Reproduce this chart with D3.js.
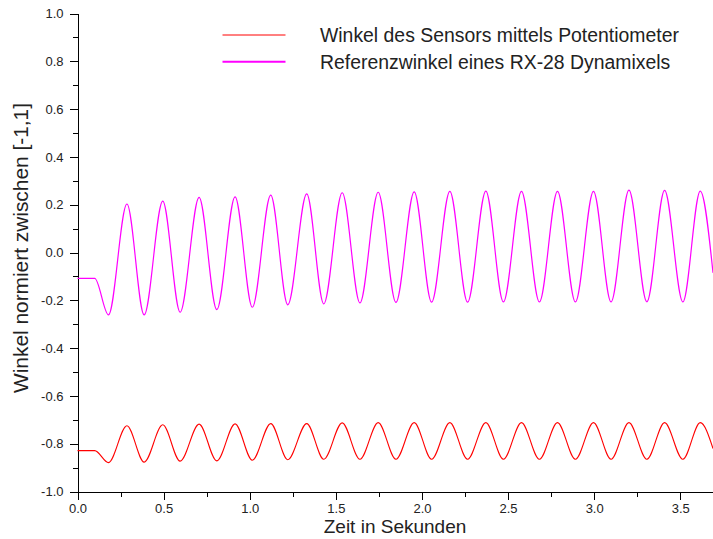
<!DOCTYPE html>
<html lang="de">
<head>
  <meta charset="UTF-8">
  <title>Winkel normiert</title>
  <script src="https://d3js.org/d3.v7.min.js"></script>
  <style>
    body { margin: 0; background: #fff; }
    svg text { font-family: "Liberation Sans", Arial, sans-serif; fill: #222; }
    .axis path, .axis line { stroke: #000; shape-rendering: crispEdges; }
    .axis text { font-size: 13px; }
  </style>
</head>
<body>
<div id="chart"></div>
<script>
  // Zeitpunkte der Extrema (s), gemeinsam für beide Kurven
  const startTimes = [0, 0.10];
  const troughTimes = [0.180, 0.387, 0.596, 0.809, 1.015, 1.221, 1.430, 1.640, 1.849,
                       2.056, 2.265, 2.473, 2.682, 2.891, 3.098, 3.306, 3.515];
  const peakTimes = [0.287, 0.495, 0.706, 0.915, 1.122, 1.331, 1.537, 1.746, 1.955,
                     2.162, 2.371, 2.578, 2.787, 2.996, 3.202, 3.409, 3.616];
  const endTime = 3.69;

  // Referenzwinkel (Dynamixel)
  const refStart = -0.108;
  const refTroughs = [-0.261, -0.261, -0.250, -0.239, -0.229, -0.219, -0.215, -0.211, -0.209,
                      -0.208, -0.208, -0.207, -0.207, -0.207, -0.207, -0.206, -0.207];
  const refPeaks = [0.203, 0.215, 0.231, 0.233, 0.240, 0.245, 0.250, 0.252, 0.254,
                    0.256, 0.257, 0.256, 0.256, 0.256, 0.261, 0.260, 0.257];
  const refEnd = -0.085;

  // Sensorwinkel (Potentiometer)
  const sensStart = -0.829;
  const sensTroughs = [-0.879, -0.877, -0.873, -0.872, -0.869, -0.867, -0.865, -0.865, -0.865,
                       -0.865, -0.865, -0.865, -0.865, -0.865, -0.865, -0.865, -0.865];
  const sensPeaks = [-0.725, -0.721, -0.718, -0.717, -0.716, -0.716, -0.713, -0.712, -0.712,
                     -0.712, -0.712, -0.712, -0.712, -0.712, -0.712, -0.712, -0.712];
  const sensEnd = -0.820;

  const legendLabels = ["Winkel des Sensors mittels Potentiometer",
                        "Referenzwinkel eines RX-28 Dynamixels"];
  const xTicks = [0, 0.5, 1.0, 1.5, 2.0, 2.5, 3.0, 3.5];
  const yTicks = [-1.0, -0.8, -0.6, -0.4, -0.2, 0.0, 0.2, 0.4, 0.6, 0.8, 1.0];

  function buildSeries(start, troughs, peaks, end) {
    const pts = startTimes.map(t => [t, start]);
    troughs.forEach((v, i) => {
      pts.push([troughTimes[i], v]);
      pts.push([peakTimes[i], peaks[i]]);
    });
    pts.push([endTime, end]);
    return pts;
  }

  const refData = buildSeries(refStart, refTroughs, refPeaks, refEnd);
  const sensData = buildSeries(sensStart, sensTroughs, sensPeaks, sensEnd);

  const width = 713, height = 539;
  const margin = { top: 13.5, right: 0, bottom: 47.5, left: 77.5 };
  const innerW = width - margin.left - margin.right;
  const innerH = height - margin.top - margin.bottom;

  const svg = d3.select("#chart").append("svg")
    .attr("width", width)
    .attr("height", height);

  const g = svg.append("g")
    .attr("transform", "translate(" + margin.left + "," + margin.top + ")");

  const x = d3.scaleLinear().domain([0, 3.69]).range([0, innerW]);
  const y = d3.scaleLinear().domain([-1, 1]).range([innerH, 0]);

  // plain hyphen instead of the unicode minus d3.format would give
  const fmt = d => d.toFixed(1);

  // Nebenstriche (0.25 s bzw. 0.1)
  g.append("g")
    .attr("class", "axis")
    .attr("transform", "translate(0," + innerH + ")")
    .call(d3.axisBottom(x).tickValues(d3.range(0.25, 3.69, 0.5)).tickSize(5).tickFormat(""))
    .call(s => s.select(".domain").remove());
  g.append("g")
    .attr("class", "axis")
    .call(d3.axisLeft(y).tickValues(d3.range(-0.9, 1, 0.2)).tickSize(5).tickFormat(""))
    .call(s => s.select(".domain").remove());

  // Hauptachsen
  g.append("g")
    .attr("class", "axis")
    .attr("transform", "translate(0," + innerH + ")")
    .call(d3.axisBottom(x).tickValues(xTicks).tickSize(8).tickSizeOuter(0).tickPadding(4)
      .tickFormat(fmt));
  g.append("g")
    .attr("class", "axis")
    .call(d3.axisLeft(y).tickValues(yTicks).tickSize(8).tickSizeOuter(0).tickPadding(6)
      .tickFormat(fmt));

  const line = d3.line()
    .x(d => x(d[0]))
    .y(d => y(d[1]))
    .curve(d3.curveMonotoneX);

  g.append("path")
    .datum(refData)
    .attr("fill", "none")
    .attr("stroke", "#ff00ff")
    .attr("stroke-width", 1.2)
    .attr("d", line);

  g.append("path")
    .datum(sensData)
    .attr("fill", "none")
    .attr("stroke", "#ff0000")
    .attr("stroke-width", 1.1)
    .attr("d", line);

  // Achsentitel
  svg.append("text")
    .attr("x", 395)
    .attr("y", 533)
    .attr("text-anchor", "middle")
    .style("font-size", "19px")
    .text("Zeit in Sekunden");

  svg.append("text")
    .attr("transform", "translate(28,248) rotate(-90)")
    .attr("text-anchor", "middle")
    .attr("textLength", 290)
    .attr("lengthAdjust", "spacingAndGlyphs")
    .style("font-size", "19.5px")
    .text("Winkel normiert zwischen [-1,1]");

  // Legende
  const legend = svg.append("g");
  const legendColors = ["#ff0000", "#ff00ff"];
  const legendWidths = [1, 2];
  legendLabels.forEach((label, i) => {
    const ly = 35 + i * 26.7;
    legend.append("line")
      .attr("x1", 222.5).attr("x2", 285.5)
      .attr("y1", ly).attr("y2", ly)
      .attr("stroke", legendColors[i])
      .attr("stroke-width", legendWidths[i]);
    legend.append("text")
      .attr("x", 320)
      .attr("y", ly + 7)
      .style("font-size", "19.4px")
      .text(label);
  });
</script>
</body>
</html>
